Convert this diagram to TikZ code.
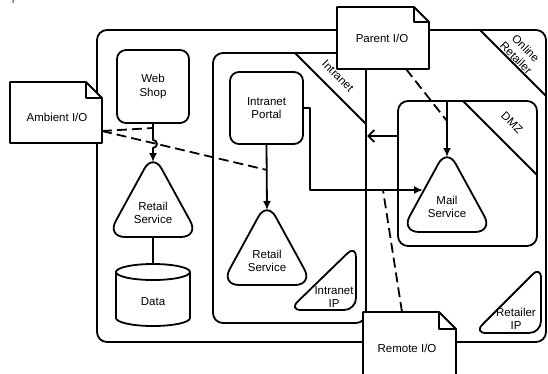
\documentclass[tikz,border=0pt]{standalone}
\usepackage{fontspec}
\setmainfont{Liberation Sans}
\newfontfamily\lmfont{Latin Modern Roman}
\usetikzlibrary{arrows.meta}
\begin{document}
\begin{tikzpicture}[x=1pt,y=-1pt, line width=1.8pt, line join=round,
  lbl/.style={font=\fontsize{11.5}{13.6}\selectfont, align=center, inner sep=0pt},
  box/.style={draw, rounded corners=9pt, fill=white, lbl},
  tri/.style={draw, rounded corners=18pt, fill=white},
  rtri/.style={draw, rounded corners=12pt, fill=white},
  conn/.style={-{Latex[length=9pt,width=8pt]}},
  openconn/.style={-{Straight Barb[length=6pt,width=12pt]}},
  dconn/.style={dash pattern=on 10pt off 5pt},
  docbox/.style={draw, fill=white}]
\useasboundingbox (0,0) rectangle (548,373);

% fragment of surrounding text
\node[font=\lmfont\fontsize{12}{14}\selectfont, anchor=base, inner sep=0pt] (frag) at (15,0) {p};

% containers
\draw[rounded corners=10pt] (97,30) rectangle (546,342);
\draw (480,30) -- (546,96);
\node[lbl, rotate=-45] (retlbl) at (521,53) {Online\\Retailer};

\draw[rounded corners=10pt] (213,53) rectangle (366,323);
\draw (295,53) -- (366,124);
\node[lbl, rotate=-45] (intlbl) at (338,76) {Intranet};

\draw[rounded corners=10pt] (398,101) rectangle (537,246);
\draw (463,101) -- (537,175);
\node[lbl, rotate=-45] (dmzlbl) at (512,123) {DMZ};

% components
\node[box, minimum width=72pt, minimum height=73pt] (web) at (153,86.5) {Web\\Shop};
\node[box, minimum width=73pt, minimum height=72pt] (portal) at (266.5,108) {Intranet\\Portal};

\draw[tri] (153,237) -- (199,237) -- (153,153) -- (107,237) -- cycle;
\node[lbl] (rs1) at (153,213) {Retail\\Service};
\coordinate (rs1top) at (153,162);
\coordinate (rs1bot) at (153,237);

\draw[tri] (267,285) -- (313,285) -- (267,201) -- (221,285) -- cycle;
\node[lbl] (rs2) at (267,261) {Retail\\Service};
\coordinate (rs2top) at (267,210);

\draw[tri] (447,232) -- (493,232) -- (447,148) -- (401,232) -- cycle;
\node[lbl] (mail) at (447,207) {Mail\\Service};
\coordinate (mailtop) at (447,157);
\coordinate (mailleft) at (423,190);

\draw[rtri] (320,310) -- (356,310) -- (356,245) -- (289,310) -- cycle;
\node[lbl] (iip) at (334,297) {Intranet\\IP};

\draw[rtri] (505,333) -- (541,333) -- (541,266) -- (474,333) -- cycle;
\node[lbl] (rip) at (516,319) {Retailer\\IP};

% data store
\draw[fill=white] (116,272) -- (116,318) arc[start angle=180, end angle=360, x radius=37, y radius=-8] -- (190,272);
\draw[fill=white] (153,272) ellipse[x radius=37, y radius=8];
\node[lbl] (data) at (153,302) {Data};
\coordinate (datatop) at (153,264);

% connectors
\draw[conn] (web.south) -- ++(0,16) arc[start angle=-90, end angle=90, radius=4] -- (rs1top);
\draw (rs1bot) -- (datatop);
\draw[conn] (portal.south) -- (rs2top);
\draw[conn] (portal.east) -- (310,108) -- (310,190) -- (mailleft);
\coordinate (dmzL) at (398,136);
\coordinate (intR) at (367,136);
\draw[openconn] (dmzL) -- (intR);
\coordinate (dmzT) at (447,101);
\draw[conn] (dmzT) -- (mailtop);

% I/O associations
\coordinate (ambR) at (102,131);
\coordinate (webmid) at (153,128);
\coordinate (portalmid) at (267,170);
\draw[dconn] (ambR) -- (webmid);
\draw[dconn] (ambR) -- (portalmid);
\coordinate (parB) at (406,69);
\coordinate (dmzmid) at (447,121);
\draw[dconn] (parB) -- (dmzmid);
\coordinate (remT) at (402,312);
\coordinate (mailmid) at (383,190);
\draw[dconn] (remT) -- (mailmid);

% I/O documents
\draw[docbox] (10,82) -- (86,82) -- (102,98) -- (102,143) -- (10,143) -- cycle;
\draw (86,82) -- (86,98) -- (102,98);
\node[lbl] (amb) at (57,117) {Ambient I/O};

\draw[docbox] (337,7) -- (414,7) -- (429,22) -- (429,69) -- (337,69) -- cycle;
\draw (414,7) -- (414,22) -- (429,22);
\node[lbl] (par) at (382,38) {Parent I/O};

\draw[docbox] (363,312) -- (439,312) -- (456,329) -- (456,385) -- (363,385) -- cycle;
\draw (439,312) -- (439,329) -- (456,329);
\node[lbl] (rem) at (407,348) {Remote I/O};
\end{tikzpicture}
\end{document}
